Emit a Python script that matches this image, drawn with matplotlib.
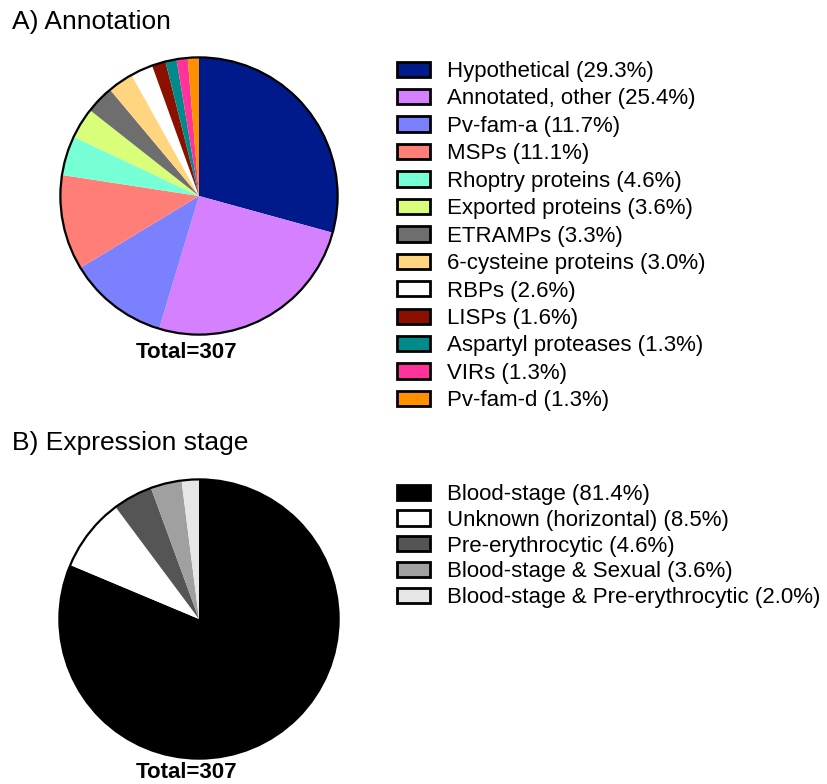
import matplotlib.pyplot as plt
from matplotlib.patches import Patch, Circle

plt.rcParams['font.family'] = ['Liberation Sans', 'DejaVu Sans']

# A) Annotation
annot_labels = ["Hypothetical", "Annotated, other", "Pv-fam-a", "MSPs",
                "Rhoptry proteins", "Exported proteins", "ETRAMPs",
                "6-cysteine proteins", "RBPs", "LISPs", "Aspartyl proteases",
                "VIRs", "Pv-fam-d"]
annot_pct = [29.3, 25.4, 11.7, 11.1, 4.6, 3.6, 3.3, 3.0, 2.6, 1.6, 1.3, 1.3, 1.3]
annot_colors = ["#001a8c", "#d580ff", "#7b80ff", "#ff7f78", "#77ffd6",
                "#d9ff7a", "#6e6e6e", "#ffd580", "#ffffff", "#8b1000",
                "#008b8b", "#ff3399", "#ff9000"]

# B) Expression stage
stage_labels = ["Blood-stage", "Unknown (horizontal)", "Pre-erythrocytic",
                "Blood-stage & Sexual", "Blood-stage & Pre-erythrocytic"]
stage_pct = [81.4, 8.5, 4.6, 3.6, 2.0]
stage_colors = ["#000000", "#ffffff", "#555555", "#a0a0a0", "#e6e6e6"]

total = 307

W, H = 827, 784
fig = plt.figure(figsize=(W / 100, H / 100), dpi=100)


def pie_panel(cx, cy, r, values, colors, labels, title, title_y, leg_x, leg_y,
              spacing, total_y):
    ax = fig.add_axes([(cx - r) / W, (H - cy - r) / H, 2 * r / W, 2 * r / H])
    ax.pie(values, colors=colors, startangle=90, counterclock=False,
           wedgeprops=dict(linewidth=0))
    ax.add_patch(Circle((0, 0), 1, fill=False, edgecolor="black", lw=1.6))
    ax.set_xlim(-1.01, 1.01)
    ax.set_ylim(-1.01, 1.01)
    ax.set_aspect('equal')
    ax.axis('off')
    fig.text((cx - 12) / W, 1 - total_y / H, "Total=%d" % total,
             ha='center', va='center', fontsize=16, fontweight='bold')
    fig.text(12 / W, 1 - title_y / H, title, ha='left', va='center', fontsize=19)
    handles = [Patch(facecolor=c, edgecolor='black', linewidth=2)
               for c in colors]
    names = ["%s (%.1f%%)" % (l, p) for l, p in zip(labels, values)]
    fig.legend(handles, names, loc='upper left',
               bbox_to_anchor=(leg_x / W, 1 - leg_y / H), frameon=False,
               fontsize=16, handlelength=1.5, handleheight=0.68,
               handletextpad=0.75, labelspacing=spacing, borderpad=0,
               borderaxespad=0)


pie_panel(199, 196, 140, annot_pct, annot_colors, annot_labels,
          "A) Annotation", 22, 397, 61, 0.29, 352)
pie_panel(199, 619, 141, stage_pct, stage_colors, stage_labels,
          "B) Expression stage", 443, 397, 484, 0.215, 772)

fig.savefig("out.png", dpi=100)
